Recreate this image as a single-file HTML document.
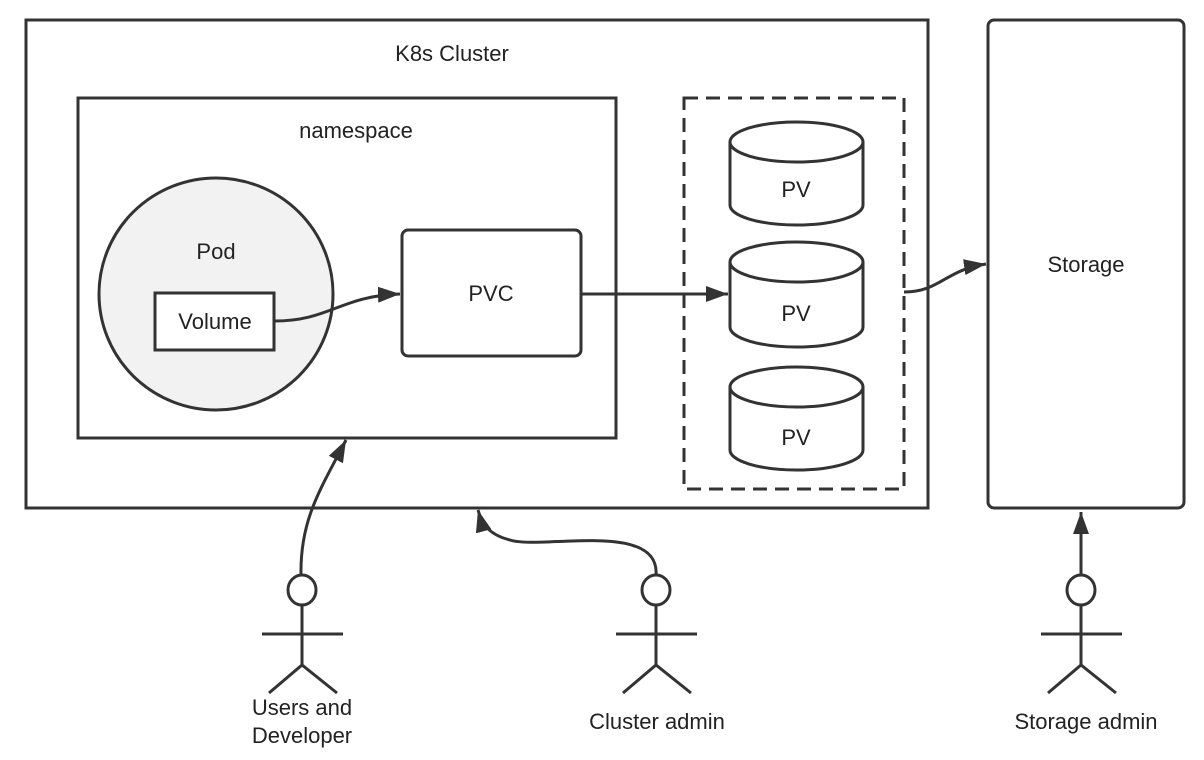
<!DOCTYPE html>
<html><head><style>body{margin:0;background:#fff}svg{display:block}text{font-family:"Liberation Sans",sans-serif;font-size:22px;fill:#222;text-anchor:middle}</style></head>
<body>
<svg width="1204" height="760" viewBox="0 0 1204 760">
<defs>
<marker id="b" markerWidth="24" markerHeight="20" refX="22" refY="10" orient="auto" markerUnits="userSpaceOnUse"><path d="M0,2 L22,10 L0,18 z" fill="#333"/></marker></defs>
<g stroke="#333" stroke-width="3" fill="none">
<rect x="26" y="20" width="902" height="488"/>
<rect x="78" y="98" width="538" height="340"/>
<ellipse cx="216" cy="294" rx="117" ry="116" fill="#f2f2f2"/>
<rect x="155" y="293" width="119" height="57" fill="#fff"/>
<rect x="402" y="230" width="179" height="126" rx="6" fill="#fff"/>
<rect x="684" y="98" width="220" height="391" stroke-dasharray="14,8"/>
<rect x="988" y="20" width="196" height="488" rx="6"/>
<g fill="#fff">
<path d="M730,142 V205 A66.5,20 0 0 0 863,205 V142"/><ellipse cx="796.5" cy="142" rx="66.5" ry="20"/>
<path d="M730,262 V327 A66.5,20 0 0 0 863,327 V262"/><ellipse cx="796.5" cy="262" rx="66.5" ry="20"/>
<path d="M730,387 V450 A66.5,20 0 0 0 863,450 V387"/><ellipse cx="796.5" cy="387" rx="66.5" ry="20"/>
</g>
<path d="M274,321 C330,321 340,296 400,294" marker-end="url(#b)"/>
<path d="M581,294 H728" marker-end="url(#b)"/>
<path d="M904,292 C940,292 945,270 986,264" marker-end="url(#b)"/>
<path d="M301,575 C300,520 320,490 346,440" marker-end="url(#b)"/>
<path d="M656,575 C660,520 540,550 510,540 C490,535 482,525 478,510" marker-end="url(#b)"/>
<path d="M1081,575 V512" marker-end="url(#b)"/>
<g id="act"><ellipse cx="302" cy="590" rx="14" ry="15"/><path d="M302,605 V665 M262,634 H343 M269,693 L302,665 L337,693"/></g>
<use href="#act" x="354"/>
<use href="#act" x="779"/>
</g>
<text x="452" y="61">K8s Cluster</text>
<text x="356" y="138">namespace</text>
<text x="216" y="259">Pod</text>
<text x="215" y="329">Volume</text>
<text x="491" y="301">PVC</text>
<text x="796" y="197">PV</text>
<text x="796" y="321">PV</text>
<text x="796" y="445">PV</text>
<text x="1086" y="272">Storage</text>
<text x="302" y="715">Users and</text>
<text x="302" y="743">Developer</text>
<text x="657" y="729">Cluster admin</text>
<text x="1086" y="729">Storage admin</text>
</svg>
</body></html>
